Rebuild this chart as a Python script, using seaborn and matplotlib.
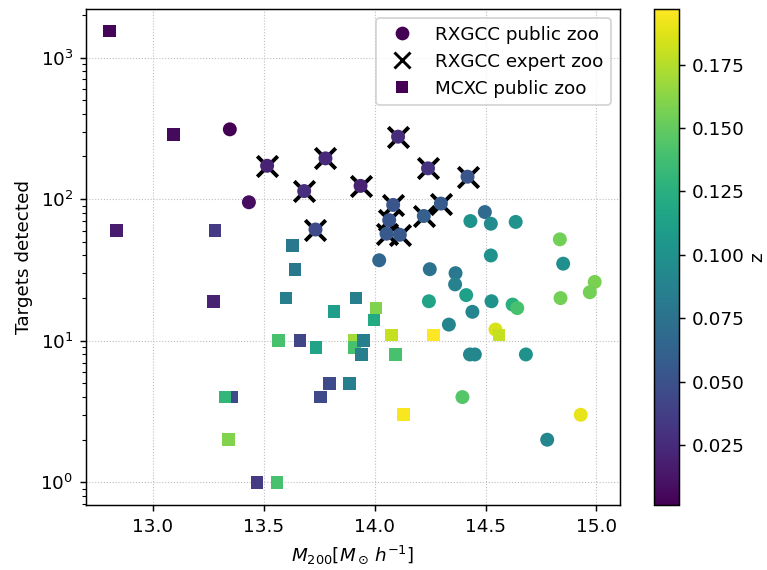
import matplotlib
matplotlib.use("Agg")
import matplotlib.pyplot as plt
from matplotlib.colors import Normalize
from matplotlib.cm import ScalarMappable
from matplotlib.lines import Line2D
import seaborn as sns

# RXGCC clusters shown in the public zoo
rx_mass = [13.348, 13.434, 13.516, 13.683, 13.779, 13.734, 13.937, 14.106,
           14.241, 14.419, 14.084, 14.299, 14.222, 14.066, 14.054, 14.114,
           14.021, 14.497, 14.432, 14.524, 14.636, 14.835, 14.524, 14.850,
           14.249, 14.365, 14.363, 14.992, 14.970, 14.838, 14.245, 14.413,
           14.527, 14.622, 14.643, 14.441, 14.335, 14.545, 14.430, 14.452,
           14.682, 14.396, 14.929, 14.778]
rx_targets = [311, 95, 172, 114, 194, 61, 124, 276,
              165, 144, 91, 93, 76, 71, 57, 56,
              37, 81, 70, 67, 69, 52, 40, 35,
              32, 30, 25, 26, 22, 20, 19, 21,
              19, 18, 17, 16, 13, 12, 8, 8,
              8, 4, 3, 2]
rx_z = [0.0013, 0.008, 0.020, 0.028, 0.024, 0.045, 0.020, 0.025,
        0.030, 0.052, 0.052, 0.057, 0.060, 0.052, 0.055, 0.055,
        0.065, 0.068, 0.100, 0.095, 0.102, 0.155, 0.100, 0.098,
        0.075, 0.080, 0.088, 0.158, 0.155, 0.155, 0.115, 0.112,
        0.100, 0.125, 0.140, 0.090, 0.090, 0.185, 0.092, 0.092,
        0.100, 0.145, 0.190, 0.092]

# RXGCC clusters also shown in the expert zoo
ex_mass = [13.516, 13.683, 13.779, 13.734, 13.937, 14.106, 14.241,
           14.419, 14.084, 14.299, 14.222, 14.066, 14.054, 14.114]
ex_targets = [172, 114, 194, 61, 124, 276, 165,
              144, 91, 93, 76, 71, 57, 56]

# MCXC clusters shown in the public zoo
mc_mass = [12.805, 13.093, 12.838, 13.281, 13.629, 13.642, 13.276, 13.601,
           13.817, 13.566, 13.664, 13.736, 13.796, 13.755, 13.356, 13.326,
           13.342, 13.471, 13.561, 13.916, 14.006, 13.998, 14.077, 14.267,
           13.908, 13.911, 13.949, 13.941, 14.096, 13.886, 14.129, 14.561]
mc_targets = [1540, 287, 60, 60, 47, 32, 19, 20,
              16, 10, 10, 9, 5, 4, 4, 4,
              2, 1, 1, 20, 17, 14, 11, 11,
              10, 9, 10, 8, 8, 5, 3, 11]
mc_z = [0.004, 0.006, 0.016, 0.035, 0.080, 0.080, 0.020, 0.085,
        0.110, 0.140, 0.042, 0.115, 0.045, 0.045, 0.045, 0.130,
        0.160, 0.035, 0.140, 0.085, 0.160, 0.120, 0.180, 0.197,
        0.170, 0.140, 0.085, 0.085, 0.140, 0.085, 0.195, 0.180]

z_all = rx_z + mc_z
norm = Normalize(vmin=min(z_all), vmax=max(z_all))
cmap = "viridis"

W, H, DPI = 767, 570, 132
fig = plt.figure(figsize=(W / DPI, H / DPI), dpi=DPI)
ax = fig.add_axes([86 / W, 1 - 505 / H, 534 / W, 496 / H])
cax = fig.add_axes([653.5 / W, 1 - 505 / H, 25 / W, 496 / H])

ax.set_yscale("log")
ax.grid(True, which="major", ls=":", lw=0.6, color="0.75")
ax.set_axisbelow(True)

sns.scatterplot(x=ex_mass, y=ex_targets, marker="x", color="black",
                s=125, linewidth=2.1, legend=False, ax=ax)
sns.scatterplot(x=rx_mass, y=rx_targets, hue=rx_z, palette=cmap,
                hue_norm=norm, marker="o", s=58, linewidth=0,
                legend=False, ax=ax)
sns.scatterplot(x=mc_mass, y=mc_targets, hue=mc_z, palette=cmap,
                hue_norm=norm, marker="s", s=48, linewidth=0,
                legend=False, ax=ax)

ax.set_xlim(12.700, 15.106)
ax.set_ylim(10 ** -0.160, 10 ** 3.3425)
ax.set_xticks([13.0, 13.5, 14.0, 14.5, 15.0])
ax.set_xlabel(r"$M_{200}[M_\odot\,h^{-1}]$")
ax.set_ylabel("Targets detected")

dark = plt.get_cmap(cmap)(0.0)
handles = [
    Line2D([], [], ls="none", marker="o", color=dark, markersize=7.5,
           markeredgewidth=0),
    Line2D([], [], ls="none", marker="x", color="black", markersize=8.5,
           markeredgewidth=1.6),
    Line2D([], [], ls="none", marker="s", color=dark, markersize=6.5,
           markeredgewidth=0),
]
ax.legend(handles, ["RXGCC public zoo", "RXGCC expert zoo", "MCXC public zoo"],
          loc="upper right")

sm = ScalarMappable(norm=norm, cmap=cmap)
cb = fig.colorbar(sm, cax=cax)
cb.set_label("z", labelpad=2)

fig.savefig("out.png", dpi=DPI)
